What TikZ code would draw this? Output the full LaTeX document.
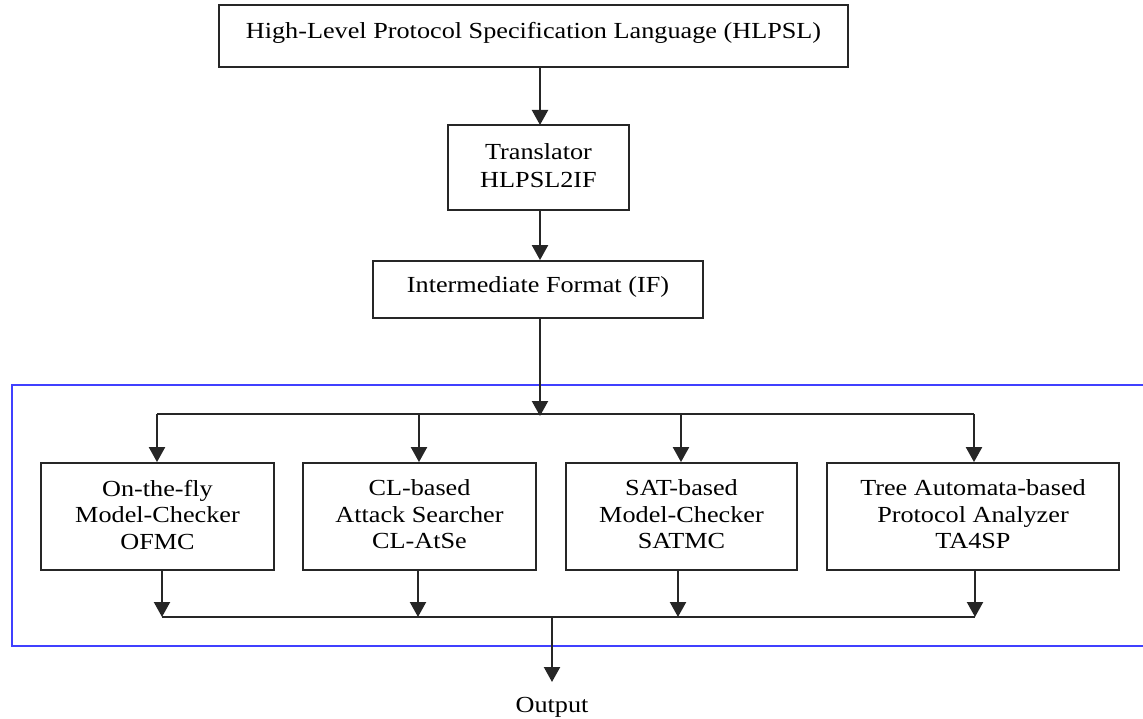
\documentclass[tikz,border=0pt]{standalone}
\usepackage{fontspec}
\setmainfont{Liberation Serif}[FakeStretch=1.14]
\usetikzlibrary{arrows.meta}
\begin{document}
\begin{tikzpicture}[x=1pt,y=-1pt,
  box/.style={draw=black!85, line width=1.8pt, fill=white, inner sep=0pt,
    align=center, font=\fontsize{23}{26.5}\selectfont},
  link/.style={draw=black!85, line width=2.2pt},
  arr/.style={link, -{Triangle[width=16pt,length=15pt]}},
  frame/.style={draw=blue!75!white, line width=1.6pt}]
\useasboundingbox (0,0) rectangle (1143,719);

% system boundary around the back-ends
\draw[frame] (12,385) rectangle (1160,646);

% input language, translator and intermediate format
\node[box, minimum width=629pt, minimum height=62pt, text depth=12pt] (hlpsl) at (533.5,36)
  {High-Level Protocol Specification Language (HLPSL)};
\node[box, minimum width=181pt, minimum height=85pt, text depth=3pt] (trans) at (538.5,167.5)
  {Translator\\[1.5pt]HLPSL2IF};
\node[box, minimum width=330pt, minimum height=57pt, text depth=9pt] (if) at (538,289.5)
  {Intermediate Format (IF)};

% the four back-ends
\tikzset{back/.style={box, minimum height=107pt, text depth=4pt}}
\node[back, minimum width=233pt] (ofmc) at (157.5,516.5)
  {On-the-fly\\Model-Checker\\OFMC};
\node[back, minimum width=233pt] (cl) at (419.5,516.5)
  {CL-based\\Attack Searcher\\CL-AtSe};
\node[back, minimum width=231pt] (sat) at (681.5,516.5)
  {SAT-based\\Model-Checker\\SATMC};
\node[back, minimum width=292pt] (ta) at (973,516.5)
  {Tree Automata-based\\Protocol Analyzer\\TA4SP};

\node[font=\fontsize{23}{26}\selectfont, inner sep=0pt] (out) at (552,707) {Output};

% distribution and collection buses
\coordinate (split) at (540,414);
\coordinate (join) at (552,617);
\coordinate (sl) at (157,414);
\coordinate (sr) at (974,414);
\coordinate (jl) at (162,617);
\coordinate (jr) at (975,617);

\draw[arr] (hlpsl.south -| 540,0) -- (540,125);
\draw[arr] (540,210) -- (if.north -| 540,0);
\draw[arr] (if.south -| split) -- ([yshift=-2pt]split);
\draw[link] (sl) -- (sr);
\draw[link] (jl) -- (jr);

\draw[arr] (sl) -- (sl |- ofmc.north);
\draw[arr] (419,414) -- (cl.north -| 419,0);
\draw[arr] (681,414) -- (sat.north -| 681,0);
\draw[arr] (sr) -- (sr |- ta.north);

\draw[arr] (jl |- ofmc.south) -- (jl);
\draw[arr] (cl.south -| 418,0) -- (418,617);
\draw[arr] (sat.south -| 678,0) -- (678,617);
\draw[arr] (jr |- ta.south) -- (jr);

\draw[arr] (join) -- (552,682);
\end{tikzpicture}
\end{document}
